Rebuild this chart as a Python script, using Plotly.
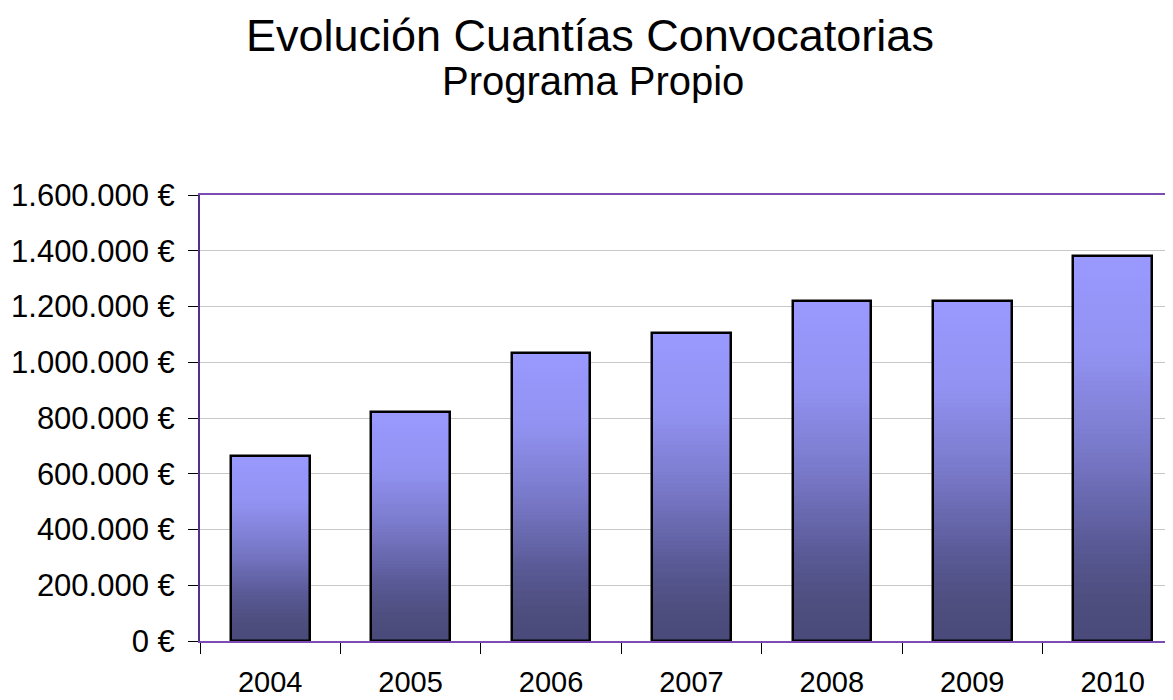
import plotly.graph_objects as go

# ---- data ----
years = ["2004", "2005", "2006", "2007", "2008", "2009", "2010"]
amounts = [665000, 822000, 1034000, 1105000, 1221000, 1221000, 1380000]

title_text = "Evolución Cuantías Convocatorias"
subtitle_text = "Programa Propio"

# ---- gradient style (fraction from top of bar -> rgb) ----
grad_stops = [(0.0, (153, 153, 255)), (0.25, (146, 146, 242)), (0.5, (121, 121, 202)),
              (0.75, (89, 89, 150)), (0.9, (77, 77, 126)), (1.0, (74, 74, 122))]
N_SEG = 80


def grad_color(f):
    for (f0, c0), (f1, c1) in zip(grad_stops[:-1], grad_stops[1:]):
        if f0 <= f <= f1:
            t = (f - f0) / (f1 - f0)
            c = [round(a + (b - a) * t) for a, b in zip(c0, c1)]
            return f"rgb({c[0]},{c[1]},{c[2]})"
    c = grad_stops[-1][1]
    return f"rgb({c[0]},{c[1]},{c[2]})"


BAR_W = 0.56
fig = go.Figure()

for i in range(N_SEG):
    frac_from_top = 1 - (i + 0.5) / N_SEG
    fig.add_trace(go.Bar(
        x=years,
        y=[v / N_SEG * 1.0005 for v in amounts],
        base=[v * i / N_SEG for v in amounts],
        width=BAR_W,
        marker=dict(color=grad_color(frac_from_top), line=dict(width=0)),
        hoverinfo="skip",
        showlegend=False,
    ))

# outline
fig.add_trace(go.Bar(
    x=years, y=amounts, width=BAR_W,
    marker=dict(color="rgba(0,0,0,0)", line=dict(color="black", width=2.5)),
    showlegend=False, hoverinfo="skip",
))

FONT = "Liberation Sans, Arial, sans-serif"

fig.update_layout(
    width=1165, height=692,
    barmode="overlay",
    bargap=0,
    separators=",.",
    paper_bgcolor="white",
    plot_bgcolor="white",
    margin=dict(l=192, r=0, t=187, b=59),
    font=dict(family=FONT, color="black"),
    annotations=[
        dict(text=title_text, xref="paper", yref="paper", x=0.401, y=(641 - 8) / 446,
             xanchor="center", yanchor="top", showarrow=False,
             font=dict(size=45, family=FONT, color="black")),
        dict(text=subtitle_text, xref="paper", yref="paper", x=0.404, y=(641 - 81) / 446,
             xanchor="center", yanchor="middle", showarrow=False,
             font=dict(size=40, family=FONT, color="black")),
    ],
)

fig.update_xaxes(
    type="category",
    range=[-0.5, 6.43],
    showline=True, linecolor="#7B4BB4", linewidth=2, mirror=True,
    ticks="outside", tickson="boundaries", ticklen=11, tickcolor="black", tickwidth=1,
    ticklabelstandoff=14,
    showgrid=False, automargin=False,
    tickfont=dict(size=29, family=FONT, color="black"),
)

fig.update_yaxes(
    range=[0, 1600000], dtick=200000, tick0=0,
    tickformat=",d", ticksuffix=" €",
    showline=True, linecolor="#55308A", linewidth=2,
    ticks="outside", ticklen=10, tickcolor="black", tickwidth=1,
    ticklabelstandoff=7,
    showgrid=True, gridcolor="#C8C8C8", gridwidth=1,
    zeroline=False, automargin=False,
    tickfont=dict(size=31, family=FONT, color="black"),
)

fig.write_html("out.html")
